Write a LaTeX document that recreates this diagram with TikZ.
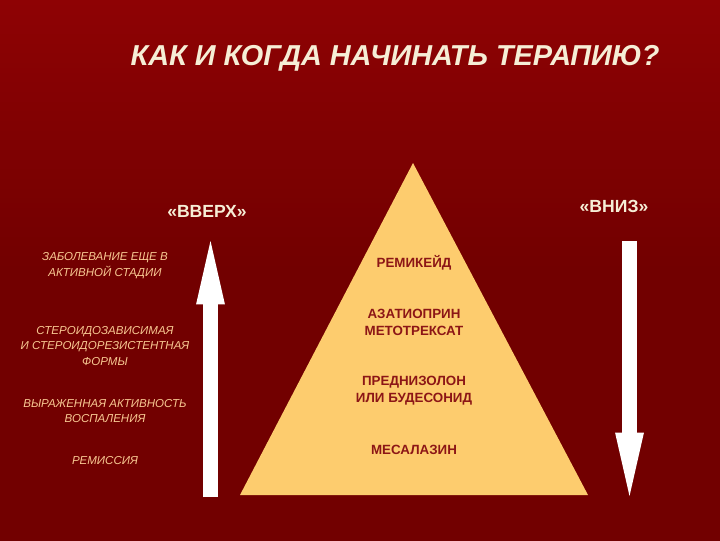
\documentclass[tikz,border=0pt]{standalone}
\usepackage{fontspec}
\setmainfont{Liberation Sans}
\usepackage{tikz}
\usetikzlibrary{positioning,arrows.meta}

\definecolor{bgbright}{RGB}{142,2,4}
\definecolor{bgdark}{RGB}{114,0,0}
\definecolor{cream}{RGB}{246,238,214}
\definecolor{peach}{RGB}{248,200,146}
\definecolor{pyramid}{RGB}{253,204,110}
\definecolor{drugred}{RGB}{140,22,22}

\begin{document}
\begin{tikzpicture}[x=0.025cm, y=-0.025cm,
    title/.style={text=cream, font=\fontsize{20.5}{24}\selectfont\bfseries\itshape},
    way/.style={text=cream, font=\fontsize{12.5}{14}\selectfont\bfseries},
    stage/.style={text=peach, align=center, font=\fontsize{8.2}{11.3}\selectfont\itshape},
    drug/.style={text=drugred, align=center, font=\fontsize{9.5}{12}\selectfont\bfseries},
    bigarrow/.style={draw=white, line width=10.6pt, -{Triangle[length=45pt, width=20.5pt, line width=0pt]}}]
    % background
    \useasboundingbox (0,0) rectangle (720,540);
    \shade[shading angle=60, top color=bgbright, bottom color=bgdark, middle color=bgdark] (0,0) rectangle (720,540);

    % pyramid
    \fill[pyramid] (413,163) -- (588,495) -- (240,495) -- cycle;

    % nodes
    \node[title] (T) at (395,58) {КАК И КОГДА НАЧИНАТЬ ТЕРАПИЮ?};
    \node[way] (up) at (207,211) {«ВВЕРХ»};
    \node[way] (down) at (614,206) {«ВНИЗ»};

    \node[stage] (s1) at (105,266) {ЗАБОЛЕВАНИЕ ЕЩЕ В\\АКТИВНОЙ СТАДИИ};
    \node[stage] (s2) at (105,346) {СТЕРОИДОЗАВИСИМАЯ\\И СТЕРОИДОРЕЗИСТЕНТНАЯ\\ФОРМЫ};
    \node[stage] (s3) at (105,411) {ВЫРАЖЕННАЯ АКТИВНОСТЬ\\ВОСПАЛЕНИЯ};
    \node[stage] (s4) at (105,461) {РЕМИССИЯ};

    \node[drug] (d1) at (414,263) {РЕМИКЕЙД};
    \node[drug] (d2) at (414,322) {АЗАТИОПРИН\\МЕТОТРЕКСАТ};
    \node[drug] (d3) at (414,391) {ПРЕДНИЗОЛОН\\ИЛИ БУДЕСОНИД};
    \node[drug] (d4) at (414,450) {МЕСАЛАЗИН};

    % arrows
    \coordinate (upbot) at (210.5,497);
    \coordinate (uptop) at (210.5,241);
    \coordinate (dntop) at (629.5,241);
    \coordinate (dnbot) at (629.5,496);
    \draw[bigarrow] (upbot) -- (uptop);
    \draw[bigarrow] (dntop) -- (dnbot);
\end{tikzpicture}
\end{document}
